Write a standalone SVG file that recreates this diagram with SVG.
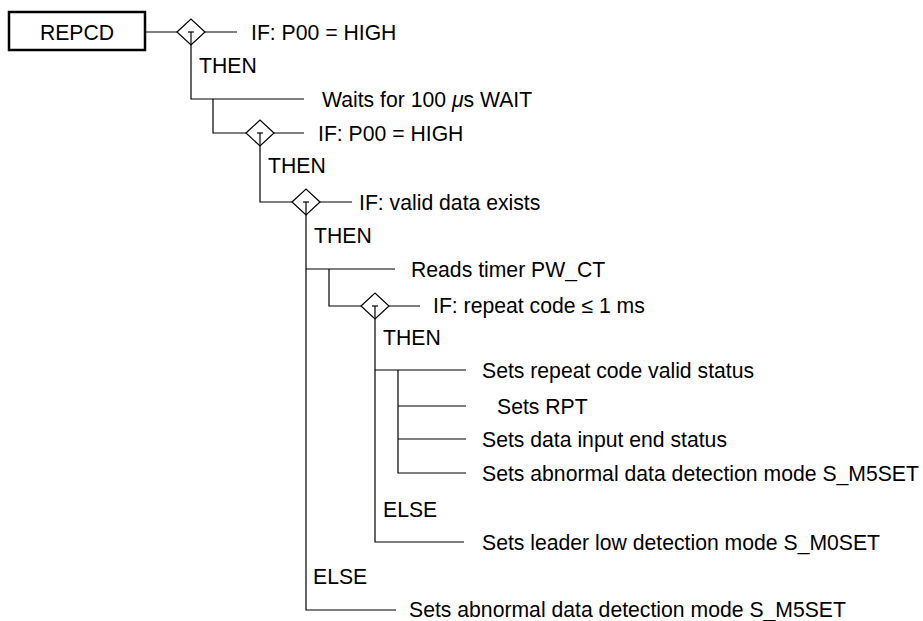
<svg xmlns="http://www.w3.org/2000/svg" width="923" height="621" viewBox="0 0 923 621">
<defs>
<style>
text{font-family:"Liberation Sans",Arial,sans-serif;font-size:21.2px;fill:#000}
.ln{stroke:#000;stroke-width:1.2;fill:none}
.dia{stroke:#000;stroke-width:1.2;fill:#fff}
.box{stroke:#000;stroke-width:2.5;fill:#fff}
</style>
<g id="diamond">
<polygon class="dia" points="-14,0 0,-13 14,0 0,13"/>
<line class="ln" x1="-3" y1="0" x2="3" y2="0"/>
<line class="ln" x1="0" y1="0" x2="0" y2="13"/>
</g>
</defs>
<rect width="923" height="621" fill="#fff"/>
<g id="connectors">
<path class="ln" d="M146,32H177 M205,32H237"/>
<path class="ln" d="M191,45V99H304 M213,99V133H246 M274,133H304"/>
<path class="ln" d="M260,146V202H292 M320,202H352"/>
<path class="ln" d="M306,215V610H396 M306,269H395 M329,269V306H361 M389,306H420"/>
<path class="ln" d="M375,319V542H464 M375,370H466 M398,370V473H466 M398,406H466 M398,439H466"/>
</g>
<g id="node-repcd">
<rect class="box" x="9" y="12" width="136" height="38"/>
<text x="77" y="39.5" text-anchor="middle">REPCD</text>
</g>
<g id="if1">
<use href="#diamond" x="191" y="32"/>
<text x="251" y="39.5">IF: P00 = HIGH</text>
<text x="199" y="73">THEN</text>
</g>
<g id="wait">
<text x="322" y="106.5">Waits for 100 <tspan font-style="italic">μ</tspan>s WAIT</text>
</g>
<g id="if2">
<use href="#diamond" x="260" y="133"/>
<text x="318" y="140.5">IF: P00 = HIGH</text>
<text x="268" y="173">THEN</text>
</g>
<g id="if3">
<use href="#diamond" x="306" y="202"/>
<text x="359" y="209.5">IF: valid data exists</text>
<text x="314" y="243">THEN</text>
</g>
<g id="read">
<text x="411" y="276.5">Reads timer PW_CT</text>
</g>
<g id="if4">
<use href="#diamond" x="375" y="306"/>
<text x="433" y="313">IF: repeat code ≤ 1 ms</text>
<text x="383" y="345">THEN</text>
</g>
<g id="set-valid"><text x="482" y="377.5">Sets repeat code valid status</text></g>
<g id="set-rpt"><text x="497" y="413.5">Sets RPT</text></g>
<g id="set-end"><text x="482" y="446.5">Sets data input end status</text></g>
<g id="set-m5-a"><text x="482" y="481">Sets abnormal data detection mode S_M5SET</text></g>
<g id="else4"><text x="383" y="517">ELSE</text></g>
<g id="set-m0"><text x="482" y="550">Sets leader low detection mode S_M0SET</text></g>
<g id="else3"><text x="313" y="584">ELSE</text></g>
<g id="set-m5-b"><text x="409" y="617">Sets abnormal data detection mode S_M5SET</text></g>
</svg>
